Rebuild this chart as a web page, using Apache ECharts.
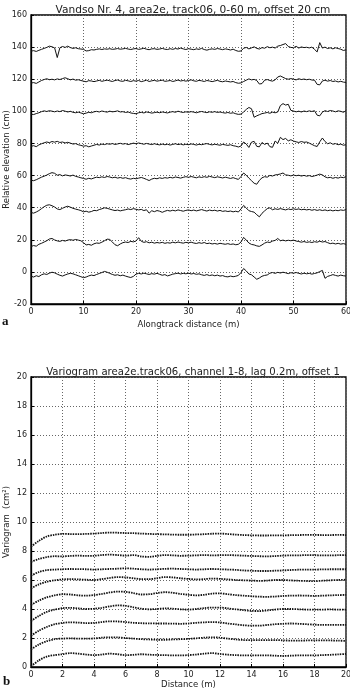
<!DOCTYPE html>
<html><head><meta charset="utf-8">
<script src="https://cdn.jsdelivr.net/npm/echarts@6/dist/echarts.min.js"></script>
<style>html,body{margin:0;padding:0;background:#fff}#c{width:350px;height:691px}</style>
</head><body><div id="c"></div>
<script>
// ---- Panel a: relative elevation profiles (x step 0.5 m, 0..60 m) ----
const profileStep = 0.5;
const profileXTicks = [0, 10, 20, 30, 40, 50, 60];
const profileYTicks = [-20, 0, 20, 40, 60, 80, 100, 120, 140, 160];
const p140 = [137.5,137.8,137.3,138.0,138.6,139.2,139.8,140.6,140.2,139.5,
133.5,139.6,140.4,139.8,140.6,139.7,139.2,139.6,139.0,138.8,
138.6,137.6,137.8,138.4,138.2,138.6,138.9,138.5,138.9,138.7,
139.0,138.6,138.8,139.1,138.7,138.9,139.2,138.8,138.5,138.9,
139.1,138.6,138.9,139.3,138.7,138.4,138.9,139.0,138.6,138.8,
139.2,138.7,138.5,139.0,138.6,139.1,138.8,139.4,138.9,138.5,
139.0,138.7,138.4,138.9,138.6,139.2,138.5,138.1,138.6,138.9,
138.6,139.1,138.8,138.4,138.9,138.6,138.2,138.7,137.9,137.4,
137.6,139.3,139.8,138.9,139.5,140.2,139.2,138.8,139.7,139.3,
140.3,139.6,140.0,139.4,140.6,141.0,141.6,142.2,140.4,139.8,
139.6,140.5,139.4,140.1,139.7,139.9,139.5,140.0,138.6,137.0,
142.8,139.4,140.0,139.1,139.6,138.9,139.6,139.1,138.7,137.9,
138.3];
const p120 = [117.6,117.9,117.4,118.3,119.2,119.8,120.3,119.7,120.0,119.6,
120.2,119.8,120.4,120.9,120.3,119.6,120.1,119.4,119.7,119.2,
118.8,118.4,119.1,118.9,118.5,118.9,119.3,118.7,119.1,119.4,
119.0,118.6,119.2,119.5,118.9,118.7,119.3,119.0,118.6,119.1,
118.8,119.2,118.5,118.9,119.4,118.6,119.0,119.3,118.8,119.1,
119.4,118.7,118.9,119.2,118.6,119.0,119.5,118.9,119.2,118.8,
119.2,119.6,119.0,118.7,119.3,119.0,118.6,119.2,118.9,118.5,
118.9,119.3,118.7,118.4,118.9,118.6,118.3,118.6,117.9,117.5,
117.7,118.6,119.4,120.2,119.6,119.9,119.2,117.0,117.3,119.4,
119.8,119.2,118.8,119.6,121.4,122.0,121.2,120.4,120.0,120.4,
120.0,119.6,120.3,119.8,120.1,119.7,120.0,119.5,119.4,116.8,
116.5,118.9,119.4,118.8,119.2,118.6,118.9,118.3,118.7,118.2,
118.0];
const p100 = [98.2,98.0,98.6,99.1,99.8,100.3,99.9,100.4,100.1,99.7,
100.2,99.8,100.5,100.1,99.6,100.0,99.4,99.1,99.5,99.0,
98.5,98.9,99.4,99.1,99.7,100.0,99.6,100.2,99.8,99.5,
100.1,99.7,99.9,100.3,99.6,99.8,99.3,99.6,99.0,98.7,
98.5,99.1,99.4,99.0,99.6,99.3,98.9,99.2,99.5,99.1,
99.6,99.3,99.0,99.5,99.8,99.4,100.1,99.6,99.3,99.7,
99.4,99.8,99.5,99.1,99.6,99.9,99.5,99.2,99.7,99.4,
99.8,99.3,99.6,99.2,98.9,99.3,98.8,99.1,98.5,98.1,
98.3,99.6,101.2,102.4,101.6,96.3,97.2,97.9,98.6,98.9,
99.3,98.8,99.5,99.1,99.6,103.6,104.8,103.9,104.4,100.6,
100.2,99.7,100.1,99.6,100.2,99.8,100.3,99.9,100.4,97.6,
97.2,99.5,100.4,99.9,100.5,100.2,99.7,100.3,100.0,99.4,
100.4];
const p80 = [78.2,78.6,78.0,79.1,79.8,80.4,80.9,80.5,81.2,80.8,
81.3,80.6,80.9,80.3,80.7,80.2,79.6,79.9,79.2,78.8,
78.3,78.6,77.9,78.4,78.9,79.4,79.0,79.6,79.3,79.8,
79.5,79.9,79.4,79.7,80.1,79.6,79.9,79.3,79.7,80.2,
79.8,80.3,79.9,79.5,80.0,79.6,79.3,79.8,79.4,79.1,
79.6,79.2,79.5,79.0,79.4,79.8,79.3,79.6,79.1,79.5,
79.2,79.7,79.4,79.0,79.5,79.2,79.6,79.9,79.4,79.1,
79.5,79.2,78.9,79.4,79.1,78.8,79.2,78.6,78.3,77.8,
78.4,80.9,79.6,77.5,80.8,81.3,78.2,77.9,80.6,79.4,
80.2,78.0,77.6,81.5,80.1,83.8,82.4,83.1,81.6,82.3,
81.5,81.0,80.6,81.2,80.7,80.9,80.2,79.4,78.6,78.1,
81.0,83.4,81.2,79.8,80.4,79.5,79.9,79.2,79.6,78.9,
79.2];
const p60 = [57.1,56.8,57.4,58.2,59.0,59.6,60.3,61.2,61.8,61.4,
60.2,60.6,59.8,60.4,60.1,59.7,60.3,59.5,59.1,58.6,
58.2,57.7,58.3,57.9,58.5,59.0,58.7,59.2,58.8,59.4,
59.1,58.6,59.0,58.4,58.8,58.3,58.7,58.1,57.8,58.3,
58.0,58.4,58.8,58.3,57.6,56.9,57.8,58.3,58.0,58.6,
58.2,58.7,58.4,58.9,58.5,59.1,58.8,58.4,58.9,59.3,
58.9,59.4,59.0,58.6,59.2,58.8,59.3,58.9,59.5,59.1,
58.7,59.2,58.9,58.5,59.0,58.6,58.2,58.7,58.1,57.6,
59.4,61.6,60.2,58.4,56.8,55.2,54.6,57.0,58.6,59.3,
59.0,60.1,59.7,60.4,60.6,61.0,61.6,60.4,60.2,59.8,
60.3,59.9,60.2,59.7,60.1,59.6,60.0,59.4,59.8,60.3,
60.9,60.4,59.2,58.6,58.9,58.3,58.8,58.4,59.0,58.7,
59.3];
const p40 = [37.0,36.6,37.3,38.2,39.4,40.6,41.5,41.8,41.2,40.4,
39.2,38.8,39.6,40.4,40.9,40.3,39.6,39.1,38.7,38.2,
37.4,37.8,37.2,37.6,38.3,38.1,38.8,39.3,39.9,39.6,
39.1,38.6,38.2,38.5,38.0,38.4,38.7,39.2,38.8,39.4,
39.0,38.6,38.9,38.2,38.7,36.6,38.1,37.5,38.2,37.8,
37.1,37.8,38.3,37.9,38.4,38.0,38.6,38.2,37.8,38.3,
38.6,38.1,38.5,38.0,38.4,38.8,38.3,37.9,38.5,38.1,
38.4,37.9,38.3,37.7,38.0,37.6,37.9,37.4,37.8,37.3,
39.2,41.4,39.8,38.1,37.6,37.2,35.6,34.3,36.5,38.0,
39.4,39.9,38.7,39.3,38.9,39.4,39.0,38.6,39.2,38.8,
39.3,38.9,39.2,38.7,39.0,38.6,38.9,38.4,38.8,38.3,
38.7,38.2,38.6,38.1,38.5,38.0,38.4,38.1,38.6,38.3,
38.8];
const p20 = [15.8,16.4,16.0,17.2,17.8,18.6,19.4,20.5,20.8,19.9,
19.3,19.0,19.6,19.2,19.8,20.1,19.7,20.2,19.8,19.4,
18.2,16.8,17.1,16.6,17.5,18.0,17.8,18.5,19.4,20.4,
20.2,18.6,16.9,16.3,17.4,18.2,18.6,18.3,19.0,18.7,
19.2,21.3,19.1,18.4,18.8,18.1,18.5,17.9,18.3,18.0,
18.4,17.8,18.2,17.9,18.5,18.1,18.6,18.2,17.9,18.4,
18.1,18.5,18.0,17.7,18.2,17.8,18.3,17.6,17.9,17.4,
17.7,17.3,17.8,17.5,17.2,17.6,17.1,17.4,16.9,17.2,
18.6,21.5,19.8,18.0,17.1,16.8,16.2,15.9,16.8,17.9,
18.6,18.3,19.2,19.6,20.8,19.4,19.8,19.3,19.7,19.4,
19.8,19.2,18.9,18.5,18.9,18.4,18.7,18.3,18.8,18.5,
19.1,18.6,18.9,18.2,17.6,17.9,17.4,17.8,17.3,17.6,
17.2];
const p0 = [-2.7,-3.2,-2.4,-2.9,-1.8,-1.2,-1.6,-0.8,-0.2,-0.6,
-1.4,-2.1,-2.6,-1.9,-1.3,-0.9,-1.2,-1.8,-2.4,-3.0,
-3.6,-3.2,-2.5,-2.0,-2.3,-1.6,-1.0,-0.4,0.3,-0.2,
-0.9,-1.6,-2.1,-1.8,-2.4,-2.0,-2.6,-3.1,-3.5,-2.8,
-1.4,-0.9,-1.3,-0.8,-1.2,-1.6,-1.1,-1.4,-0.9,-1.5,
-2.1,-1.7,-2.5,-2.0,-1.4,-1.1,-0.8,-1.3,-0.9,-1.2,
-0.8,-1.3,-1.0,-1.5,-1.2,-1.8,-2.2,-1.7,-2.3,-1.9,
-2.4,-2.0,-2.6,-2.3,-2.9,-3.1,-2.6,-3.0,-2.7,-2.2,
-0.4,2.1,0.6,-1.3,-1.8,-3.2,-4.6,-3.8,-2.7,-2.2,
-1.9,-0.8,-0.4,-0.9,-0.3,-0.7,-0.2,-0.6,-1.1,-0.5,
-0.8,-0.4,-0.9,-1.3,-0.8,-1.2,-0.9,-1.4,-1.0,-0.6,
0.2,0.9,-4.0,-2.8,-2.3,-1.7,-2.2,-2.6,-2.0,-2.4,
-2.6];
const profiles = [p0, p20, p40, p60, p80, p100, p120, p140];

// ---- Panel b: variograms (lag step 0.5 m, 0..20 m) ----
const lagStep = 0.5;
const v1 = [0.05,0.45,0.72,0.82,0.88,0.96,0.92,0.86,0.82,0.86,0.92,0.88,0.82,0.84,0.88,0.85,0.83,0.82,0.80,0.80,0.82,0.86,0.92,0.96,0.90,0.85,0.82,0.80,0.80,0.80,0.80,0.78,0.76,0.78,0.80,0.80,0.80,0.82,0.84,0.87,0.90];
const v2 = [1.22,1.55,1.78,1.92,1.96,1.97,1.96,1.95,1.97,2.02,2.05,2.04,2.00,1.96,1.92,1.90,1.88,1.88,1.90,1.92,1.94,1.98,2.02,2.05,2.02,1.96,1.90,1.86,1.85,1.85,1.86,1.86,1.84,1.82,1.82,1.83,1.84,1.84,1.83,1.82,1.80];
const v3 = [2.16,2.50,2.76,2.95,3.04,3.08,3.06,3.03,3.04,3.10,3.15,3.14,3.10,3.05,3.02,3.01,3.00,3.00,2.99,2.98,3.00,3.05,3.08,3.10,3.07,3.00,2.94,2.88,2.85,2.85,2.90,2.95,2.98,3.00,2.98,2.95,2.92,2.90,2.90,2.90,2.90];
const v4 = [3.17,3.52,3.80,3.96,4.06,4.08,4.04,4.00,4.02,4.08,4.18,4.25,4.22,4.12,4.02,3.98,4.00,4.04,4.02,3.98,3.96,4.00,4.06,4.10,4.10,4.04,3.98,3.92,3.87,3.86,3.90,3.96,4.00,4.00,3.98,3.96,3.95,3.96,3.97,3.96,3.95];
const v5 = [4.28,4.58,4.80,4.94,5.02,5.00,4.94,4.92,4.96,5.04,5.14,5.20,5.18,5.10,5.00,5.02,5.10,5.16,5.12,5.04,4.98,4.94,4.98,5.06,5.08,5.02,4.96,4.92,4.88,4.85,4.84,4.86,4.90,4.92,4.93,4.92,4.90,4.92,4.94,4.96,4.97];
const v6 = [5.42,5.70,5.88,5.98,6.04,6.06,6.04,6.02,6.00,6.06,6.14,6.20,6.18,6.12,6.06,6.06,6.12,6.20,6.18,6.12,6.07,6.04,6.06,6.10,6.08,6.04,6.00,5.98,5.96,5.94,5.96,6.00,6.00,5.97,5.95,5.93,5.92,5.95,5.98,6.00,6.02];
const v7 = [6.30,6.55,6.68,6.72,6.74,6.76,6.75,6.74,6.72,6.74,6.76,6.78,6.80,6.78,6.74,6.72,6.74,6.77,6.78,6.76,6.74,6.72,6.74,6.76,6.74,6.72,6.70,6.66,6.64,6.62,6.62,6.64,6.66,6.69,6.71,6.72,6.72,6.73,6.74,6.74,6.74];
const v8 = [7.25,7.45,7.58,7.64,7.63,7.66,7.68,7.66,7.67,7.72,7.75,7.72,7.68,7.72,7.62,7.60,7.66,7.72,7.70,7.67,7.68,7.70,7.72,7.70,7.71,7.72,7.70,7.68,7.66,7.64,7.63,7.65,7.68,7.70,7.70,7.72,7.71,7.70,7.70,7.71,7.72];
const v9 = [8.30,8.70,9.00,9.12,9.18,9.17,9.16,9.18,9.20,9.24,9.27,9.26,9.24,9.23,9.20,9.18,9.16,9.15,9.13,9.12,9.12,9.14,9.16,9.19,9.20,9.17,9.13,9.10,9.08,9.07,9.07,9.08,9.08,9.09,9.10,9.11,9.11,9.10,9.10,9.11,9.10];
const variograms = [v1, v2, v3, v4, v5, v6, v7, v8, v9];
const variogramXTicks = [0, 2, 4, 6, 8, 10, 12, 14, 16, 18, 20];
const variogramYTicks = [0, 2, 4, 6, 8, 10, 12, 14, 16, 18, 20];

const FONT = 'DejaVu Sans';
const TXT = '#222';
function pairs(arr, step) { return arr.map((v, i) => [i * step, v]); }

const axisCommon = {
  axisLine: { show: true, onZero: false, lineStyle: { color: '#000', width: 1.3 } },
  axisTick: { show: true, inside: true, length: 3, lineStyle: { color: '#000' } },
  axisLabel: { color: TXT, fontFamily: FONT, fontSize: 8, margin: 4 },
  splitLine: { show: true, lineStyle: { color: '#666', type: [1, 2], width: 1 } },
  nameTextStyle: { color: TXT, fontFamily: FONT, fontSize: 8.5 },
  nameMoveOverlap: false
};

const chart = echarts.init(document.getElementById('c'), null, { renderer: 'canvas' });
const series = [];
profiles.forEach((p) => series.push({
  type: 'line', xAxisIndex: 0, yAxisIndex: 0, data: pairs(p, profileStep),
  showSymbol: false, animation: false, lineStyle: { color: '#111', width: 1 }
}));
variograms.forEach((v) => series.push({
  type: 'line', xAxisIndex: 1, yAxisIndex: 1, data: pairs(v, lagStep),
  showSymbol: false, animation: false, smooth: 0.3,
  lineStyle: { color: '#111', width: 1.8, type: [1.5, 1] }
}));

chart.setOption({
  backgroundColor: '#fff',
  animation: false,
  title: [
    { text: 'Vandso Nr. 4, area2e, track06, 0-60 m, offset 20 cm', left: 188, top: 0, textAlign: 'center',
      textStyle: { fontFamily: FONT, fontSize: 10.6, fontWeight: 'normal', color: TXT } },
    { text: 'Variogram area2e.track06, channel 1-8, lag 0.2m, offset 1', left: 188, top: 362, textAlign: 'center',
      textStyle: { fontFamily: FONT, fontSize: 10.1, fontWeight: 'normal', color: TXT } }
  ],
  grid: [
    { left: 31, right: 4, top: 15, height: 289, containLabel: false, outerBoundsMode: 'none', show: true, borderColor: '#000', borderWidth: 1.3, backgroundColor: 'transparent' },
    { left: 31, right: 4, top: 377, height: 290, containLabel: false, outerBoundsMode: 'none', show: true, borderColor: '#000', borderWidth: 1.3, backgroundColor: 'transparent' }
  ],
  xAxis: [
    Object.assign({}, axisCommon, { type: 'value', gridIndex: 0, min: profileXTicks[0], max: profileXTicks[profileXTicks.length - 1], interval: 10,
      name: 'Alongtrack distance (m)', nameLocation: 'middle', nameGap: 16 }),
    Object.assign({}, axisCommon, { type: 'value', gridIndex: 1, min: variogramXTicks[0], max: variogramXTicks[variogramXTicks.length - 1], interval: 2,
      name: 'Distance (m)', nameLocation: 'middle', nameGap: 13 })
  ],
  yAxis: [
    Object.assign({}, axisCommon, { type: 'value', gridIndex: 0, min: profileYTicks[0], max: profileYTicks[profileYTicks.length - 1], interval: 20,
      name: 'Relative elevation (cm)', nameLocation: 'middle', nameGap: 20 }),
    Object.assign({}, axisCommon, { type: 'value', gridIndex: 1, min: variogramYTicks[0], max: variogramYTicks[variogramYTicks.length - 1], interval: 2,
      name: 'Variogram  (cm²)', nameLocation: 'middle', nameGap: 20 })
  ],
  graphic: [
    { type: 'text', left: 2, top: 315, style: { text: 'a', font: 'bold 13px "Liberation Serif"', fill: '#111' } },
    { type: 'text', left: 3, top: 675, style: { text: 'b', font: 'bold 13px "Liberation Serif"', fill: '#111' } }
  ],
  series: series
});
</script></body></html>
